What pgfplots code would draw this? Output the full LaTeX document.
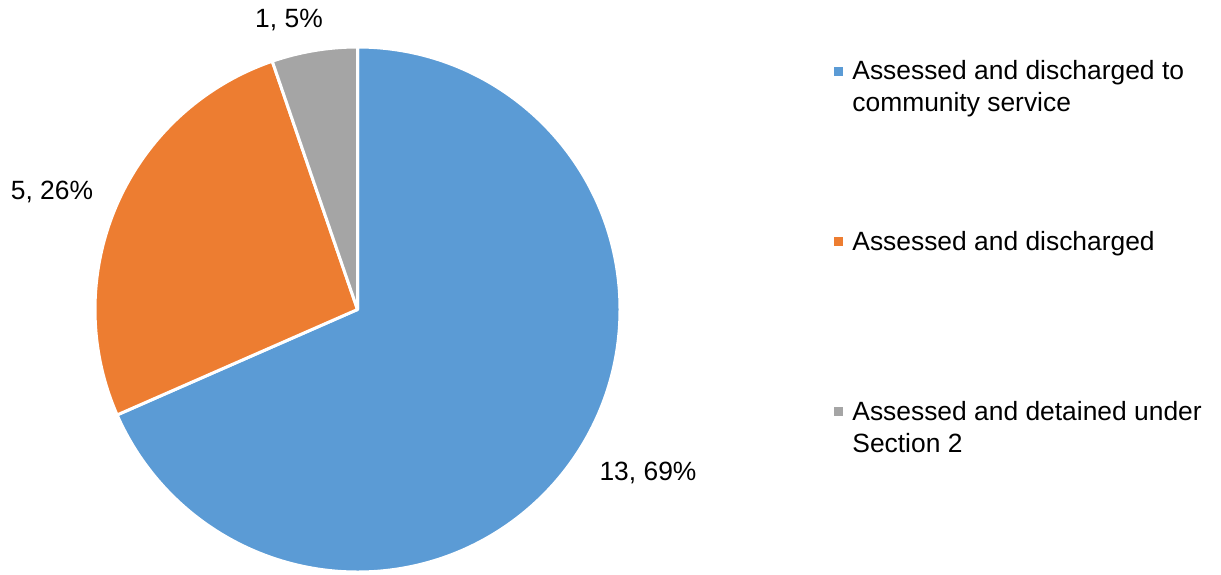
\documentclass[border=0pt]{standalone}
\usepackage{pgfplots}
\pgfplotsset{compat=1.18}
\usepackage{fontspec}
\setmainfont{Liberation Sans}
\definecolor{cblue}{HTML}{5B9BD5}
\definecolor{corange}{HTML}{ED7D31}
\definecolor{cgray}{HTML}{A5A5A5}
\begin{document}
\begin{tikzpicture}[font=\fontsize{13.2}{16}\selectfont]
\def\va{13}\def\vb{5}\def\vc{1}
\pgfmathsetmacro\tot{\va+\vb+\vc}
\pgfmathsetmacro\aA{90}
\pgfmathsetmacro\aB{90-360*\va/\tot}
\pgfmathsetmacro\aC{\aB-360*\vb/\tot}
\pgfmathsetmacro\aD{\aC-360*\vc/\tot}
\def\R{131.25pt}
\begin{axis}[hide axis, scale only axis, width=610.5pt, height=287pt,
  xmin=0, xmax=1221, ymin=0, ymax=574, y dir=reverse, clip=false]
\path (axis cs:0,0) rectangle (axis cs:1221,574);
\fill[cblue, draw=white, line width=1.5pt, line join=round] (axis cs:357.5,309.5) -- ++(\aA:\R) arc[start angle=\aA, end angle=\aB, radius=\R] -- cycle;
\fill[corange, draw=white, line width=1.5pt, line join=round] (axis cs:357.5,309.5) -- ++(\aB:\R) arc[start angle=\aB, end angle=\aC, radius=\R] -- cycle;
\fill[cgray, draw=white, line width=1.5pt, line join=round] (axis cs:357.5,309.5) -- ++(\aC:\R) arc[start angle=\aC, end angle=\aD, radius=\R] -- cycle;
% data labels
\node[inner sep=0] at (axis cs:648,473) {13, 69\%};
\node[inner sep=0] at (axis cs:52,192) {5, 26\%};
\node[inner sep=0] at (axis cs:289,20) {1, 5\%};
% legend
\fill[cblue] (axis cs:833.5,67) rectangle (axis cs:842.5,76);
\fill[corange] (axis cs:833.5,237) rectangle (axis cs:842.5,246);
\fill[cgray] (axis cs:833.5,407) rectangle (axis cs:842.5,416);
\node[anchor=base west, inner sep=0] at (axis cs:852,79.5) {Assessed and discharged to};
\node[anchor=base west, inner sep=0] at (axis cs:852,111.5) {community service};
\node[anchor=base west, inner sep=0] at (axis cs:852,250) {Assessed and discharged};
\node[anchor=base west, inner sep=0] at (axis cs:852,420) {Assessed and detained under};
\node[anchor=base west, inner sep=0] at (axis cs:852,452) {Section 2};
\end{axis}
\end{tikzpicture}
\end{document}
